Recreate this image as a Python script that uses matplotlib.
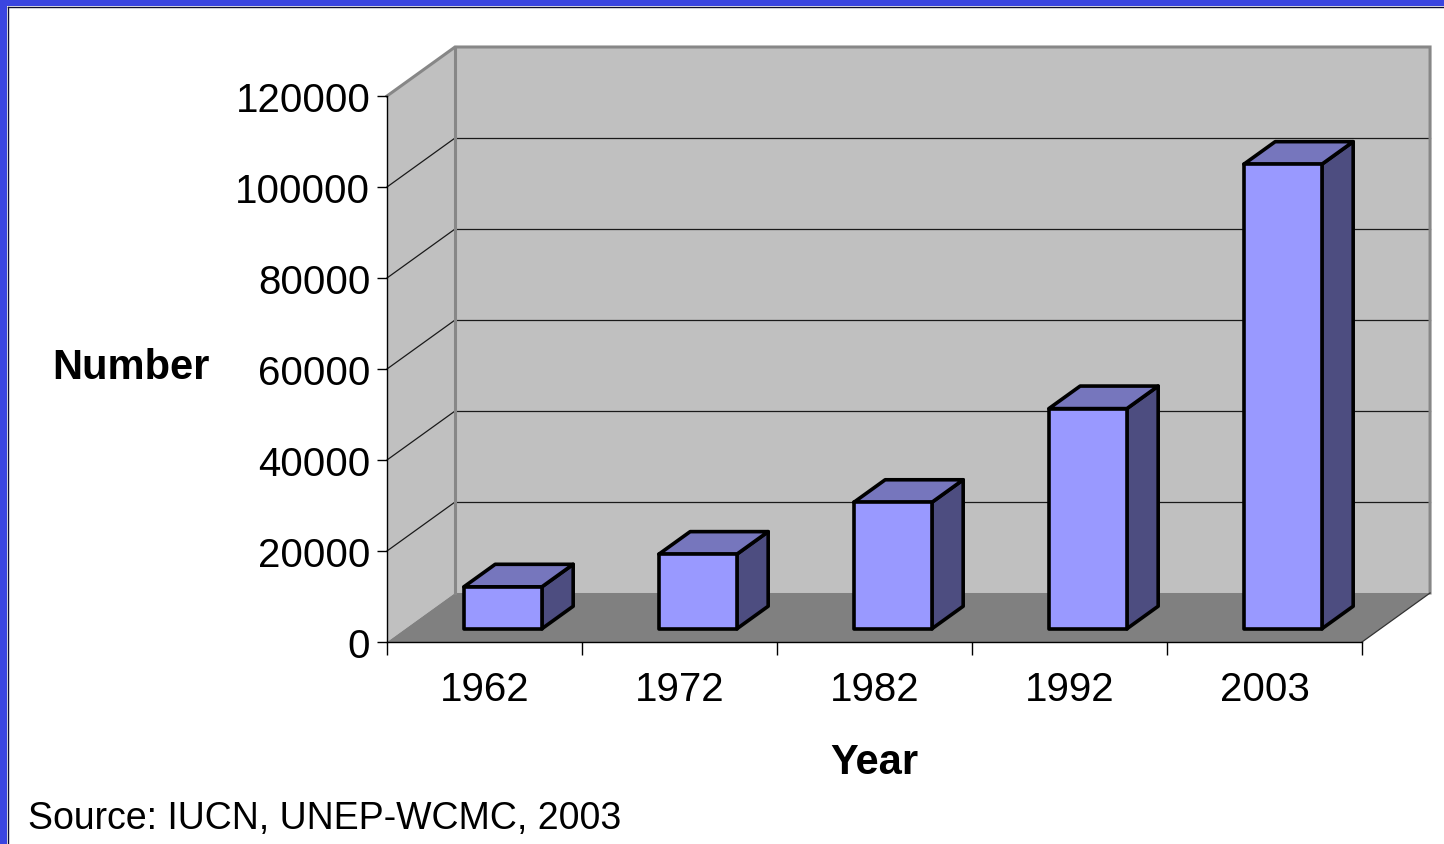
import matplotlib
matplotlib.use('Agg')
from matplotlib import pyplot as plt
from matplotlib.patches import Polygon, Rectangle
from matplotlib.lines import Line2D

plt.rcParams['font.family'] = ['Liberation Sans', 'DejaVu Sans']

years = ['1962', '1972', '1982', '1992', '2003']
counts = [9214, 16394, 27794, 48388, 102102]
yticks = [0, 20000, 40000, 60000, 80000, 100000, 120000]

YMAX = 120000
# oblique depth offset of the back wall, in data units (categories, values)
DX = 0.349
DY = 10770

def p(x, y, f):
    # point at depth f (0 = front plane, 1 = back wall)
    return (x + f * DX, y + f * DY)

fig = plt.figure(figsize=(14.44, 8.45), dpi=100)
fig.patch.set_facecolor('white')
ax = fig.add_axes([387 / 1444, 202 / 845, 975 / 1444, 546 / 845])
ax.set_xlim(0, len(years))
ax.set_ylim(0, YMAX)
ax.patch.set_visible(False)

n = len(years)

# walls and floor
ax.add_patch(Polygon([p(0, 0, 0), p(0, YMAX, 0), p(0, YMAX, 1), p(0, 0, 1)],
                     closed=True, facecolor='#c0c0c0', edgecolor='none', clip_on=False, zorder=0.5))
ax.add_patch(Polygon([p(0, 0, 1), p(n, 0, 1), p(n, YMAX, 1), p(0, YMAX, 1)],
                     closed=True, facecolor='#c0c0c0', edgecolor='none', clip_on=False, zorder=0.5))
ax.add_patch(Polygon([p(0, 0, 0), p(n, 0, 0), p(n, 0, 1), p(0, 0, 1)],
                     closed=True, facecolor='#808080', edgecolor='none', clip_on=False, zorder=0.6))

# gridlines on back wall and left wall
for t in yticks[1:-1]:
    a, b = p(0, t, 1), p(n, t, 1)
    ax.plot([a[0], b[0]], [a[1], b[1]], color='#1a1a1a', lw=0.9, clip_on=False, zorder=0.8)
    c, d = p(0, t, 0), p(0, t, 1)
    ax.plot([c[0], d[0]], [c[1], d[1]], color='#1a1a1a', lw=0.9, clip_on=False, zorder=0.8)

# wall edges
edge = [p(0, YMAX, 0), p(0, YMAX, 1), p(n, YMAX, 1), p(n, 0, 1)]
ax.plot([q[0] for q in edge], [q[1] for q in edge], color='#878787', lw=2.2,
        clip_on=False, zorder=0.9, solid_joinstyle='miter')
a, b = p(0, 0, 1), p(0, YMAX, 1)
ax.plot([a[0], b[0]], [a[1], b[1]], color='#878787', lw=2.2, clip_on=False, zorder=0.9)
a, b = p(n, 0, 0), p(n, 0, 1)
ax.plot([a[0], b[0]], [a[1], b[1]], color='#333333', lw=0.9, clip_on=False, zorder=0.9)

# 3d columns
w = 0.4
f0, f1 = 0.27, 0.73
for i, v in enumerate(counts):
    x0 = i + 0.5 - w / 2
    x1 = i + 0.5 + w / 2
    kw = dict(closed=True, edgecolor='black', lw=2.6, clip_on=False, zorder=3, joinstyle='round')
    ax.add_patch(Polygon([p(x1, 0, f0), p(x1, 0, f1), p(x1, v, f1), p(x1, v, f0)],
                         facecolor='#4d4d80', **kw))
    ax.add_patch(Polygon([p(x0, v, f0), p(x1, v, f0), p(x1, v, f1), p(x0, v, f1)],
                         facecolor='#7676bd', **kw))
    ax.add_patch(Polygon([p(x0, 0, f0), p(x1, 0, f0), p(x1, v, f0), p(x0, v, f0)],
                         facecolor='#9999ff', **kw))

# axes
for s in ['top', 'right']:
    ax.spines[s].set_visible(False)
for s in ['left', 'bottom']:
    ax.spines[s].set_color('black')
    ax.spines[s].set_linewidth(1.0)
    ax.spines[s].set_zorder(2.5)

ax.set_yticks(yticks)
ax.set_yticklabels([str(t) for t in yticks], fontsize=29)
ax.tick_params(axis='y', direction='out', length=7, width=1, pad=5, color='black')

ax.set_xticks(range(n + 1))
ax.set_xticklabels([''] * (n + 1))
ax.set_xticks([i + 0.5 for i in range(n)], minor=True)
ax.set_xticklabels(years, minor=True, fontsize=29)
ax.tick_params(axis='x', which='major', direction='out', length=9, width=1, color='black')
ax.tick_params(axis='x', which='minor', length=0, pad=20)

fig.text(131 / 1444, 1 - 368 / 845, 'Number', fontsize=30, fontweight='bold',
         ha='center', va='center')
fig.text(874 / 1444, 1 - 763 / 845, 'Year', fontsize=30, fontweight='bold',
         ha='center', va='center')
fig.text(28 / 1444, 1 - 819 / 845, 'Source: IUCN, UNEP-WCMC, 2003', fontsize=27,
         ha='left', va='center')

# blue slide frame
fig.add_artist(Rectangle((0, 1 - 7 / 845), 1, 7 / 845, transform=fig.transFigure,
                         facecolor='#3a45e0', edgecolor='none'))
fig.add_artist(Rectangle((0, 0), 7 / 1444, 1, transform=fig.transFigure,
                         facecolor='#3a45e0', edgecolor='none'))
fig.add_artist(Line2D([7.5 / 1444, 1], [1 - 7.5 / 845, 1 - 7.5 / 845], transform=fig.transFigure,
                      color='#101030', lw=1))
fig.add_artist(Line2D([7.5 / 1444, 7.5 / 1444], [0, 1 - 7.5 / 845], transform=fig.transFigure,
                      color='#101030', lw=1))

fig.savefig('out.png', dpi=100)
